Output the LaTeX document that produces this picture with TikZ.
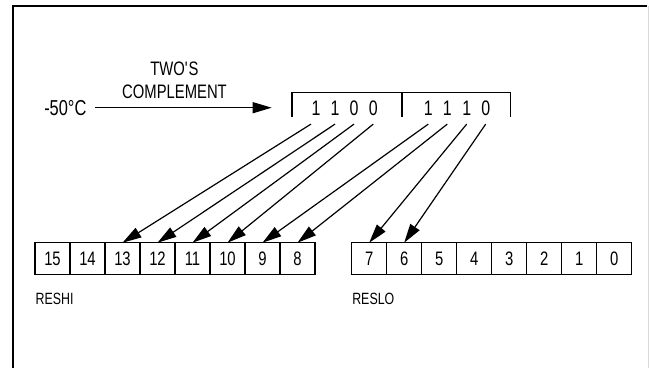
\documentclass[tikz,border=0pt]{standalone}
\usepackage{fontspec}
\setmainfont{Liberation Sans}[FakeStretch=0.76]
\usetikzlibrary{arrows.meta,positioning}

\tikzset{
	bitbox/.style={draw, line width=1.1pt, minimum width=35pt, minimum height=31.6pt, inner sep=0pt, outer sep=0pt, font=\fontsize{19.5}{22}\selectfont},
	digit/.style={inner sep=0pt, minimum height=31pt, font=\fontsize{21}{24}\selectfont},
	txt/.style={inner sep=0pt, font=\fontsize{19.5}{22.7}\selectfont},
	reglbl/.style={inner sep=0pt, font=\fontsize{16.3}{18}\selectfont},
}

\begin{document}
\begin{tikzpicture}[x=1pt, y=-1pt, >={Triangle[length=19pt,width=11pt]}, line width=1.2pt]
	\useasboundingbox (0,0) rectangle (649,368);
	% Frame
	\draw [line width=2pt] (13,368) -- (13,6) -- (647,6);
	\draw [gray!30, line width=0.6pt] (648.3,6) -- (648.3,368);

	% Input value {temp, twos}
	\node [txt, anchor=east, inner xsep=8pt, font=\fontsize{21.6}{24}\selectfont] (temp) at (95,107.7) {-50°C};
	\node [txt, align=center] (twos) at (174.5,80.3) {TWO\textquotesingle S\\COMPLEMENT};
	\coordinate (regin) at (271.7,107.7);
	\path [->] (temp) edge (regin);

	% Register digits {d1, ..., d8}
	\node [digit] (d1) at (316,108)   {1};
	\node [digit] (d2) at (335,108)   {1};
	\node [digit] (d3) at (354,108)   {0};
	\node [digit] (d4) at (373.3,108) {0};
	\node [digit] (d5) at (428.3,108) {1};
	\node [digit] (d6) at (447.3,108) {1};
	\node [digit] (d7) at (466.7,108) {1};
	\node [digit] (d8) at (485.7,108) {0};
	\draw [line width=1.4pt] (292,116.7) -- (292,92.7) -- (510.7,92.7) -- (510.7,116.7);
	\draw [line width=1.4pt] (402,92.7) -- (402,116.7);

	% Bits RESHI {b15, ..., b8}
	\node [bitbox] (b15) at (52.5,258.5)   {15};
	\node [bitbox] (b14) [right=0pt of b15] {14};
	\node [bitbox] (b13) [right=0pt of b14] {13};
	\node [bitbox] (b12) [right=0pt of b13] {12};
	\node [bitbox] (b11) [right=0pt of b12] {11};
	\node [bitbox] (b10) [right=0pt of b11] {10};
	\node [bitbox] (b9)  [right=0pt of b10] {9};
	\node [bitbox] (b8)  [right=0pt of b9]  {8};
	\node [reglbl, anchor=west] (reshi) at ([yshift=-25pt]b15.south west) {RESHI};

	% Bits RESLO {b7, ..., b0}
	\node [bitbox] (b7) at (369.2,258.5)  {7};
	\node [bitbox] (b6) [right=0pt of b7] {6};
	\node [bitbox] (b5) [right=0pt of b6] {5};
	\node [bitbox] (b4) [right=0pt of b5] {4};
	\node [bitbox] (b3) [right=0pt of b4] {3};
	\node [bitbox] (b2) [right=0pt of b3] {2};
	\node [bitbox] (b1) [right=0pt of b2] {1};
	\node [bitbox] (b0) [right=0pt of b1] {0};
	\node [reglbl, anchor=west] (reslo) at ([yshift=-25pt]b7.south west) {RESLO};

	% Paths
	\path [->] (d1.south west) edge (b13.north);
	\path [->] (d2.south)      edge (b12.north);
	\path [->] (d3.south)      edge (b11.north);
	\path [->] (d4.south)      edge (b10.north);
	\path [->] (d5.south)      edge (b9.north);
	\path [->] (d6.south)      edge (b8.north);
	\path [->] (d7.south)      edge (b7.north);
	\path [->] (d8.south)      edge (b6.north);
\end{tikzpicture}
\end{document}
